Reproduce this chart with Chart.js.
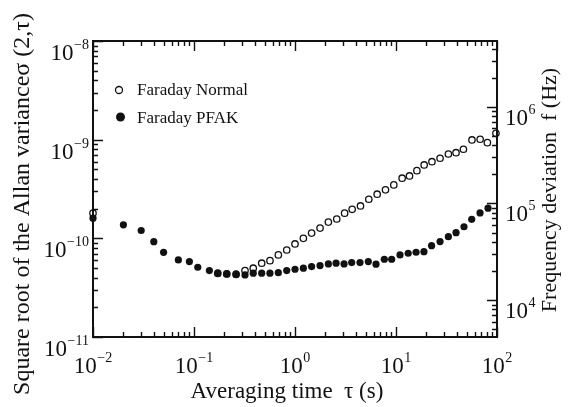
<!DOCTYPE html>
<html>
<head>
<meta charset="utf-8">
<script src="https://cdn.jsdelivr.net/npm/chart.js@4.4.1/dist/chart.umd.min.js"></script>
<style>
  html, body { margin: 0; padding: 0; background: #fff; }
</style>
</head>
<body>
<canvas id="allan" width="569" height="407"></canvas>
<script>
// (tau in s, sigma dimensionless)
const tauNormal = [0.01, 0.172, 0.211, 0.261, 0.32, 0.386, 0.468, 0.565, 0.684, 0.828,
  1.0, 1.21, 1.46, 1.77, 2.14, 2.59, 3.10, 3.68, 4.45, 5.38,
  6.51, 7.87, 9.51, 11.5, 13.6, 16.1, 19.0, 22.7, 27.3, 33.0,
  39.3, 46.5, 56.5, 68.1, 80.3, 97.6];
const sigmaNormal = [1.80e-10, 4.40e-11, 4.36e-11, 4.30e-11, 4.71e-11, 4.98e-11, 5.6e-11, 5.94e-11, 6.79e-11, 7.62e-11,
  8.77e-11, 1.0e-10, 1.13e-10, 1.27e-10, 1.46e-10, 1.57e-10, 1.80e-10, 1.97e-10, 2.13e-10, 2.49e-10,
  2.80e-10, 3.10e-10, 3.48e-10, 4.07e-10, 4.29e-10, 4.85e-10, 5.54e-10, 5.98e-10, 6.48e-10, 7.16e-10,
  7.38e-10, 8.0e-10, 9.93e-10, 1.01e-9, 9.33e-10, 1.16e-9];

const tauPfak = [0.01, 0.02, 0.03, 0.04, 0.05, 0.07, 0.09, 0.109, 0.142, 0.172,
  0.211, 0.261, 0.32, 0.386, 0.468, 0.565, 0.684, 0.828, 1.0, 1.21,
  1.46, 1.77, 2.14, 2.55, 3.06, 3.64, 4.40, 5.32, 6.34, 7.66,
  9.06, 10.96, 13.2, 15.8, 18.9, 22.5, 27.3, 33.0, 39.3, 47.1,
  56.2, 67.9, 81.5];
const sigmaPfak = [1.60e-10, 1.37e-10, 1.20e-10, 9.25e-11, 7.22e-11, 6.04e-11, 5.81e-11, 5.09e-11, 4.71e-11, 4.47e-11,
  4.36e-11, 4.36e-11, 4.26e-11, 4.43e-11, 4.43e-11, 4.43e-11, 4.49e-11, 4.71e-11, 4.86e-11, 4.98e-11,
  5.17e-11, 5.29e-11, 5.5e-11, 5.6e-11, 5.5e-11, 5.68e-11, 5.68e-11, 5.81e-11, 5.47e-11, 6.14e-11,
  6.14e-11, 6.79e-11, 7.06e-11, 7.23e-11, 7.33e-11, 8.43e-11, 9.27e-11, 1.04e-10, 1.14e-10, 1.31e-10,
  1.56e-10, 1.81e-10, 2.02e-10];

// tick labels, as powers of ten
const xExps = [-2, -1, 0, 1, 2];
const yExps = [-8, -9, -10, -11];
const fExps = [4, 5, 6];

const seriesNames = ['Faraday Normal', 'Faraday PFAK'];

const INK = '#111';
const SERIF = '"Liberation Serif", "DejaVu Serif", serif';

function toPoints(xs, ys) {
  return xs.map((x, i) => ({ x: x, y: ys[i] }));
}

function logTicks(min, max) {
  const out = [];
  for (let e = Math.floor(Math.log10(min)); e <= Math.ceil(Math.log10(max)); e++) {
    for (let m = 1; m < 10; m++) {
      const v = m * Math.pow(10, e);
      if (v >= min * 0.999 && v <= max * 1.001) out.push({ v: v, major: m === 1 });
    }
  }
  return out;
}

function expText(e) {
  return (e < 0 ? '\u2212' : '') + Math.abs(e);
}

// "10" with a raised exponent; x is where the group starts
function drawPow(ctx, e, x, base) {
  ctx.font = '23px ' + SERIF;
  ctx.textAlign = 'left';
  ctx.textBaseline = 'alphabetic';
  ctx.fillText('10', x, base);
  const w = ctx.measureText('10').width;
  ctx.font = '14px ' + SERIF;
  ctx.fillText(expText(e), x + w + 0.5, base - 11);
}

function powWidth(ctx, e) {
  ctx.font = '23px ' + SERIF;
  const w = ctx.measureText('10').width;
  ctx.font = '14px ' + SERIF;
  return w + 0.5 + ctx.measureText(expText(e)).width;
}

const axesDecor = {
  id: 'axesDecor',
  afterDraw(chart) {
    const { ctx, chartArea: a } = chart;
    const sx = chart.scales.x, sy = chart.scales.y, sf = chart.scales.y2;
    ctx.save();
    ctx.strokeStyle = INK;
    ctx.fillStyle = INK;

    // top edge of the frame
    ctx.lineWidth = 2;
    ctx.beginPath();
    ctx.moveTo(a.left - 1, a.top);
    ctx.lineTo(a.right + 1, a.top);
    ctx.stroke();

    // inward ticks
    ctx.lineWidth = 1.4;
    ctx.beginPath();
    logTicks(sx.min, sx.max).forEach(t => {
      const px = Math.round(sx.getPixelForValue(t.v)) + 0.5;
      const len = t.major ? 10 : 5;
      ctx.moveTo(px, a.bottom); ctx.lineTo(px, a.bottom - len);
      ctx.moveTo(px, a.top); ctx.lineTo(px, a.top + len);
    });
    logTicks(sy.min, sy.max).forEach(t => {
      const py = Math.round(sy.getPixelForValue(t.v)) + 0.5;
      const len = t.major ? 10 : 5;
      ctx.moveTo(a.left, py); ctx.lineTo(a.left + len, py);
    });
    logTicks(sf.min, sf.max).forEach(t => {
      const py = Math.round(sf.getPixelForValue(t.v)) + 0.5;
      const len = t.major ? 10 : 5;
      ctx.moveTo(a.right, py); ctx.lineTo(a.right - len, py);
    });
    ctx.stroke();

    // tick labels
    xExps.forEach(e => {
      const px = sx.getPixelForValue(Math.pow(10, e));
      drawPow(ctx, e, px - powWidth(ctx, e) / 2, 373);
    });
    yExps.forEach(e => {
      const py = sy.getPixelForValue(Math.pow(10, e));
      drawPow(ctx, e, a.left - 4 - powWidth(ctx, e), py + 19);
    });
    fExps.forEach(e => {
      const py = sf.getPixelForValue(Math.pow(10, e));
      drawPow(ctx, e, a.right + 8, py + 18);
    });

    // axis titles
    ctx.textBaseline = 'alphabetic';
    ctx.textAlign = 'center';
    ctx.font = '23px ' + SERIF;
    ctx.fillText('Averaging time  \u03C4 (s)', 287, 398);

    ctx.save();
    ctx.translate(29, 204);
    ctx.rotate(-Math.PI / 2);
    ctx.font = '24px ' + SERIF;
    ctx.fillText('Square root of the Allan variance\u03C3 (2,\u03C4)', 0, 0);
    ctx.restore();

    ctx.save();
    ctx.translate(556, 190);
    ctx.rotate(-Math.PI / 2);
    ctx.font = '22px ' + SERIF;
    ctx.fillText('Frequency deviation  f (Hz)', 0, 0);
    ctx.restore();

    // legend
    ctx.lineWidth = 1.3;
    ctx.beginPath();
    ctx.arc(119, 90, 3.5, 0, Math.PI * 2);
    ctx.stroke();
    ctx.beginPath();
    ctx.arc(120.5, 117, 4.5, 0, Math.PI * 2);
    ctx.fill();
    ctx.font = '17px ' + SERIF;
    ctx.textAlign = 'left';
    ctx.fillText(seriesNames[0], 137, 95);
    ctx.fillText(seriesNames[1], 137, 123);

    ctx.restore();
  }
};

new Chart(document.getElementById('allan'), {
  type: 'scatter',
  data: {
    datasets: [
      {
        label: seriesNames[0],
        data: toPoints(tauNormal, sigmaNormal),
        pointStyle: 'circle',
        pointRadius: 3.2,
        pointBorderWidth: 1.3,
        pointBackgroundColor: 'rgba(255,255,255,0)',
        pointBorderColor: INK,
        clip: false
      },
      {
        label: seriesNames[1],
        data: toPoints(tauPfak, sigmaPfak),
        pointStyle: 'circle',
        pointRadius: 3.6,
        pointBorderWidth: 0,
        pointBackgroundColor: INK,
        pointBorderColor: INK,
        clip: false
      }
    ]
  },
  options: {
    responsive: false,
    animation: false,
    devicePixelRatio: 1,
    layout: { padding: { top: 41, left: 0, right: 0, bottom: 0 } },
    plugins: { legend: { display: false }, tooltip: { enabled: false } },
    scales: {
      x: {
        type: 'logarithmic',
        position: 'bottom',
        min: 0.01,
        max: 100,
        ticks: { display: false },
        grid: { display: false },
        border: { display: true, color: INK, width: 2 },
        afterFit: s => { s.height = 70; }
      },
      y: {
        type: 'logarithmic',
        position: 'left',
        min: 1e-11,
        max: 1e-8,
        ticks: { display: false },
        grid: { display: false },
        border: { display: true, color: INK, width: 2 },
        afterFit: s => { s.width = 93; }
      },
      y2: {
        type: 'logarithmic',
        position: 'right',
        min: 4150,
        max: 4.8e6,
        ticks: { display: false },
        grid: { display: false },
        border: { display: true, color: INK, width: 2 },
        afterFit: s => { s.width = 72; }
      }
    }
  },
  plugins: [axesDecor]
});
</script>
</body>
</html>
